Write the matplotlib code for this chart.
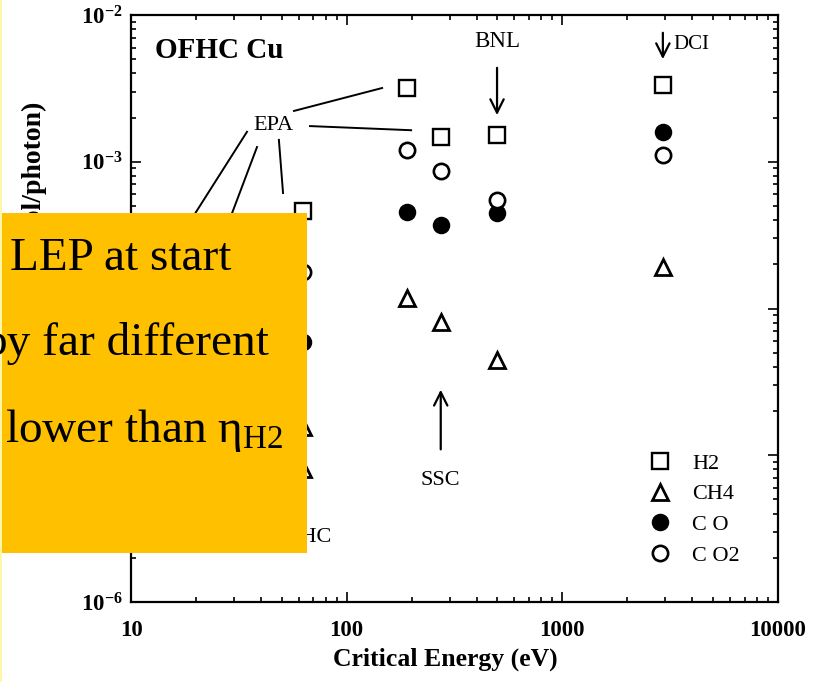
import matplotlib
matplotlib.use("Agg")
import matplotlib.pyplot as plt
from matplotlib.patches import Rectangle
from matplotlib.ticker import LogLocator, NullFormatter

plt.rcParams['font.family'] = ['Liberation Serif', 'DejaVu Serif']
plt.rcParams['mathtext.default'] = 'regular'

# values (critical energy in eV, yield in mol/photon)
energy = [63, 190, 273, 498, 2925]
h2 = [4.6e-4, 3.2e-3, 1.47e-3, 1.52e-3, 3.33e-3]
co = [5.9e-5, 4.55e-4, 3.7e-4, 4.5e-4, 1.6e-3]
co2 = [1.77e-4, 1.2e-3, 8.65e-4, 5.5e-4, 1.11e-3]
ch4_energy = [63, 63, 190, 273, 498, 2925]
ch4 = [1.56e-5, 8.0e-6, 1.18e-4, 8.1e-5, 4.46e-5, 1.92e-4]

x_ticks = [10, 100, 1000, 10000]
x_ticklabels = ['10', '100', '1000', '10000']
y_ticks = [1e-6, 1e-5, 1e-4, 1e-3, 1e-2]
y_ticklabels = ['$10^{-6}$', '$10^{-5}$', '$10^{-4}$', '$10^{-3}$', '$10^{-2}$']

# leader lines from the EPA label
epa_lines = [((57, 2.22e-3), (146, 3.18e-3)),
             ((67.6, 1.75e-3), (199, 1.64e-3)),
             ((34.5, 1.60e-3), (16.9, 3.07e-4)),
             ((38.4, 1.26e-3), (26.4, 2.93e-4)),
             ((48.5, 1.41e-3), (50.7, 6.12e-4))]

W, H = 821, 682
fig = plt.figure(figsize=(W / 100, H / 100), dpi=100)
ax = fig.add_axes([131 / W, 1 - 602 / H, (778 - 131) / W, (602 - 15) / H])
ax.set_xscale('log')
ax.set_yscale('log')
ax.set_xlim(10, 10000)
ax.set_ylim(1e-6, 1e-2)

ms = 11
ax.plot(energy, h2, ls='none', marker='s', ms=ms, mfc='white', mec='black', mew=1.7, label='H2', zorder=3)
ax.plot(ch4_energy, ch4, ls='none', marker='^', ms=ms, mfc='white', mec='black', mew=2.0, label='CH4', zorder=3)
ax.plot(energy, co, ls='none', marker='o', ms=ms, mfc='black', mec='black', mew=1.6, label='C O', zorder=3)
ax.plot(energy, co2, ls='none', marker='o', ms=ms, mfc='white', mec='black', mew=1.9, label='C O2', zorder=3)

ax.set_xticks(x_ticks)
ax.set_xticklabels(x_ticklabels, fontsize=16.5, fontweight='bold')
ax.set_yticks(y_ticks)
ax.set_yticklabels(y_ticklabels, fontsize=16.5, fontweight='bold')
ax.xaxis.set_minor_locator(LogLocator(base=10, subs=range(2, 10)))
ax.yaxis.set_minor_locator(LogLocator(base=10, subs=range(2, 10)))
ax.xaxis.set_minor_formatter(NullFormatter())
ax.yaxis.set_minor_formatter(NullFormatter())
ax.tick_params(which='both', direction='in', top=True, right=True, width=1.2)
ax.tick_params(which='major', length=7)
ax.tick_params(which='minor', length=3.5)
ax.tick_params(axis='x', which='major', pad=13)
ax.tick_params(axis='y', which='major', pad=6)
for s in ax.spines.values():
    s.set_linewidth(1.6)

ax.set_xlabel('Critical Energy (eV)', fontsize=18.5, fontweight='bold', labelpad=5)
ax.xaxis.label.set_x(0.486)
fig.text(34 / W, 1 - 102 / H, 'Desorption Yield (mol/photon)', rotation=90,
         ha='center', va='top', fontsize=20, fontweight='bold')

ax.text(0.037, 0.94, 'OFHC Cu', transform=ax.transAxes, fontsize=21, fontweight='bold',
        va='center', ha='left')

ax.text(46, 1.78e-3, 'EPA', fontsize=16, ha='center', va='center')
for (x0, y0), (x1, y1) in epa_lines:
    ax.plot([x0, x1], [y0, y1], color='black', lw=1.4)

ax.text(498, 6.65e-3, 'BNL', fontsize=16.5, ha='center', va='center')
ax.annotate('', xy=(498, 1.99e-3), xytext=(498, 4.56e-3),
            arrowprops=dict(arrowstyle='->', lw=1.6, color='black', mutation_scale=24))

ax.text(3950, 6.25e-3, 'DCI', fontsize=15, ha='center', va='center')
ax.annotate('', xy=(2925, 4.79e-3), xytext=(2925, 7.9e-3),
            arrowprops=dict(arrowstyle='->', lw=1.6, color='black', mutation_scale=24))

ax.text(273, 6.78e-6, 'SSC', fontsize=16, ha='center', va='center')
ax.annotate('', xy=(273, 2.92e-5), xytext=(273, 1.05e-5),
            arrowprops=dict(arrowstyle='->', lw=1.6, color='black', mutation_scale=24))

ax.text(67.6, 2.77e-6, 'LHC', fontsize=16, ha='center', va='center')
ax.plot([64.1, 64.1], [3.35e-6, 5.54e-6], color='black', lw=1.0)

leg = ax.legend(loc='upper left', bbox_to_anchor=(649 / W, 1 - 453 / H),
                bbox_transform=fig.transFigure, frameon=False, fontsize=16,
                handlelength=1.0, handletextpad=0.95, labelspacing=0.46,
                borderpad=0, borderaxespad=0, numpoints=1)

# orange overlay text box
fig.add_artist(Rectangle((0, 1 - 553 / H), 307 / W, (553 - 213) / H,
                         transform=fig.transFigure, facecolor='#FFC000',
                         edgecolor='none', zorder=5))
fig.add_artist(Rectangle((0, 0), 2 / W, 1, transform=fig.transFigure,
                         facecolor='#FFF7A8', edgecolor='none', zorder=5))
box_font = 34
fig.text(10 / W, 1 - 270 / H, 'LEP at start', fontsize=box_font, ha='left',
         va='baseline', zorder=6)
fig.text(269 / W, 1 - 355 / H, 'by far different', fontsize=box_font, ha='right',
         va='baseline', zorder=6)
fig.text(5 / W, 1 - 442 / H, 'lower than η$_{H2}$', fontsize=box_font, ha='left',
         va='baseline', zorder=6)

fig.savefig('out.png', dpi=100)
